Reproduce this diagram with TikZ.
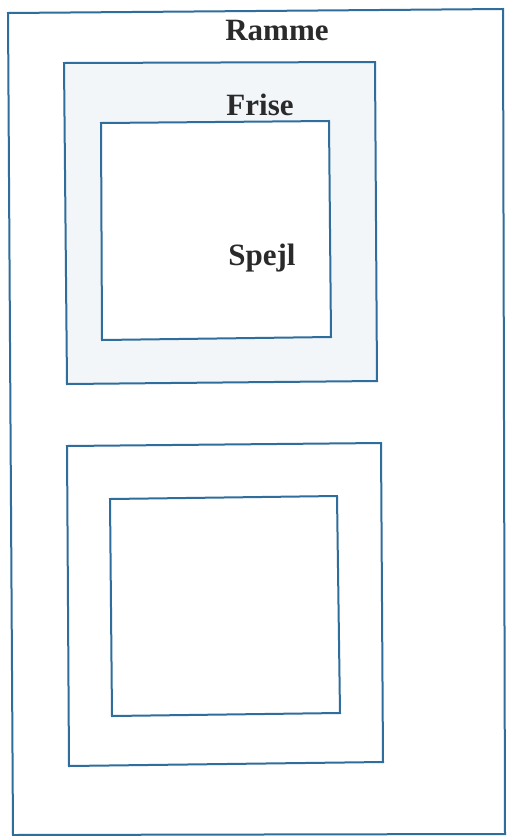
\documentclass[tikz,border=0pt]{standalone}
\usepackage{fontspec}
\setmainfont{Liberation Serif}
\definecolor{frameblue}{HTML}{2F6E9C}
\definecolor{frisefill}{HTML}{F3F6F9}
\definecolor{labelgrey}{HTML}{2A2A2A}
\begin{document}
\begin{tikzpicture}[x=1pt,y=-1pt,
  rim/.style={draw=frameblue,line width=2pt,line join=miter},
  lbl/.style={anchor=base,inner sep=0pt,text=labelgrey,font=\fontsize{31}{31}\selectfont\bfseries}]
\useasboundingbox (0,0) rectangle (508,836);
\fill[white] (0,0) rectangle (508,836);
% outer frame (Ramme)
\draw[rim] (8,13) -- (503,9) -- (505,834) -- (13,835) -- cycle;
% upper frieze and mirror
\draw[rim,fill=frisefill] (64,63) -- (375,62) -- (377,381) -- (67,384) -- cycle;
\draw[rim,fill=white] (101,123) -- (329,121) -- (331,337) -- (102,340) -- cycle;
% lower frieze and mirror
\draw[rim] (67,446) -- (381,443) -- (383,762) -- (69,766) -- cycle;
\draw[rim] (110,499) -- (337,496) -- (340,713) -- (112,716) -- cycle;
% labels
\node[lbl] (ramme) at (277,40) {Ramme};
\node[lbl] (frise) at (260,115) {Frise};
\node[lbl] (spejl) at (262,265) {Spejl};
\end{tikzpicture}
\end{document}
